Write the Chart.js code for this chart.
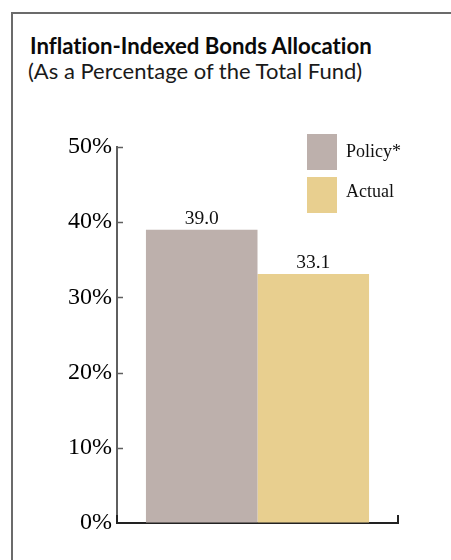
<!DOCTYPE html>
<html><head><meta charset="utf-8">
<script src="https://cdn.jsdelivr.net/npm/chart.js@4/dist/chart.umd.min.js"></script>
<style>
html,body{margin:0;padding:0;background:#fff;}
#wrap{position:relative;width:451px;height:560px;overflow:hidden;}
#frame{position:absolute;left:11px;top:12px;width:460px;height:600px;border-top:2px solid #6b6b6b;border-left:2px solid #6b6b6b;}
#title{position:absolute;left:30px;top:34px;font-family:Lato,"Open Sans",sans-serif;font-weight:bold;font-size:22.2px;line-height:24px;color:#0a0a0a;white-space:nowrap;font-variant-ligatures:none;}
#subtitle{position:absolute;left:28px;top:59px;font-family:Lato,"Open Sans",sans-serif;font-weight:normal;font-size:22px;line-height:24px;color:#1a1a1a;white-space:nowrap;font-variant-ligatures:none;}
canvas{position:absolute;left:0;top:0;}
</style></head>
<body>
<div id="wrap">
<div id="frame"></div>
<div id="title">Inflation-Indexed Bonds Allocation</div>
<div id="subtitle">(As a Percentage of the Total Fund)</div>
<canvas id="c" width="451" height="560"></canvas>
</div>
<script>
const categories = ['Inflation-Indexed Bonds'];
const seriesNames = ['Policy*', 'Actual'];
const policyValues = [39.0];
const actualValues = [33.1];
const yTickValues = [0, 10, 20, 30, 40, 50];
const seriesColors = ['#bdb0ac', '#e8cf8f'];

const serif = '"Liberation Serif", "DejaVu Serif", serif';

const extras = {
  id: 'extras',
  afterDraw(chart) {
    const ctx = chart.ctx;
    const ca = chart.chartArea;
    const y = chart.scales.y;
    ctx.save();
    // inward y ticks
    ctx.strokeStyle = '#5f5f5f';
    ctx.lineWidth = 1.5;
    y.ticks.forEach(t => {
      if (t.value === 0) return;
      const py = Math.round(y.getPixelForValue(t.value)) + 0.5;
      ctx.beginPath();
      ctx.moveTo(ca.left, py);
      ctx.lineTo(ca.left + 6, py);
      ctx.stroke();
    });
    // bracket ends on x axis
    ctx.strokeStyle = '#222';
    ctx.lineWidth = 2;
    ctx.beginPath();
    ctx.moveTo(ca.left, ca.bottom + 1);
    ctx.lineTo(ca.left, ca.bottom - 8);
    ctx.moveTo(ca.right, ca.bottom + 1);
    ctx.lineTo(ca.right, ca.bottom - 8);
    ctx.stroke();
    // value labels
    ctx.fillStyle = '#111';
    ctx.font = '19.5px ' + serif;
    ctx.textAlign = 'center';
    ctx.textBaseline = 'alphabetic';
    chart.data.datasets.forEach((ds, i) => {
      const meta = chart.getDatasetMeta(i);
      meta.data.forEach((bar, j) => {
        ctx.fillText(ds.data[j].toFixed(1), bar.x, bar.y - 6);
      });
    });
    // legend
    ctx.font = '18px ' + serif;
    ctx.textAlign = 'left';
    chart.data.datasets.forEach((ds, i) => {
      const top = 134 + i * 43;
      ctx.fillStyle = ds.backgroundColor;
      ctx.fillRect(307, top, 30, 36);
      ctx.fillStyle = '#111';
      ctx.fillText(ds.label, 346, 157 + i * 40);
    });
    ctx.restore();
  }
};

new Chart(document.getElementById('c'), {
  type: 'bar',
  data: {
    labels: categories,
    datasets: [
      { label: seriesNames[0], data: policyValues, backgroundColor: seriesColors[0], barPercentage: 1, categoryPercentage: 0.794 },
      { label: seriesNames[1], data: actualValues, backgroundColor: seriesColors[1], barPercentage: 1, categoryPercentage: 0.794 }
    ]
  },
  options: {
    responsive: false,
    animation: false,
    layout: { padding: { top: 147, right: 53, left: 0, bottom: 0 } },
    plugins: { legend: { display: false }, title: { display: false }, tooltip: { enabled: false } },
    scales: {
      x: {
        grid: { display: false, drawTicks: false },
        ticks: { display: false },
        border: { display: true, color: '#222', width: 2 },
        afterFit(s) { s.height = 37; }
      },
      y: {
        min: 0, max: 50,
        afterBuildTicks(s) { s.ticks = yTickValues.map(v => ({ value: v })); },
        ticks: { callback: v => v + '%', font: { family: serif, size: 24 }, color: '#000', padding: 5 },
        grid: { drawOnChartArea: false, drawTicks: false },
        border: { display: true, color: '#5f5f5f', width: 2 },
        afterFit(s) { s.width = 117; }
      }
    }
  },
  plugins: [extras]
});
</script>
</body></html>
